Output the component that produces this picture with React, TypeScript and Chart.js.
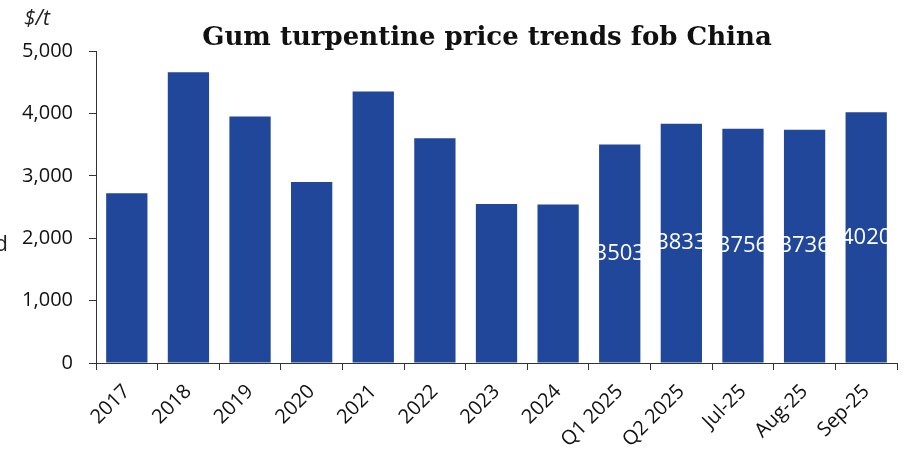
import React, { useEffect, useRef } from "react";
import { Chart, registerables } from "chart.js";

Chart.register(...registerables);

const categories = ["2017", "2018", "2019", "2020", "2021", "2022", "2023", "2024", "Q1 2025", "Q2 2025", "Jul-25", "Aug-25", "Sep-25"];
const prices = [2720, 4660, 3950, 2900, 4350, 3600, 2550, 2540, 3503, 3833, 3756, 3736, 4020];
const labelled = [false, false, false, false, false, false, false, false, true, true, true, true, true];
const yTicks = [0, 1000, 2000, 3000, 4000, 5000];
const titleText = "Gum turpentine price trends fob China";
const unitText = "$/t";

const BAR = "#21479a";
const AXIS = "#333333";
const FONT = "'Open Sans', 'Noto Sans', sans-serif";

const overlay = {
  id: "overlay",
  afterDatasetsDraw(chart: any) {
    const ctx = chart.ctx;
    const meta = chart.getDatasetMeta(0);
    ctx.save();
    ctx.fillStyle = "#ffffff";
    ctx.font = `22px ${FONT}`;
    ctx.textAlign = "center";
    ctx.textBaseline = "middle";
    meta.data.forEach((el: any, i: number) => {
      if (!labelled[i]) return;
      const yMid = (el.y + el.base) / 2;
      ctx.fillText(String(prices[i]), el.x, yMid);
    });
    ctx.restore();
  },
  afterDraw(chart: any) {
    const ctx = chart.ctx;
    ctx.save();
    ctx.fillStyle = "#111111";
    ctx.font = `bold 26px 'DejaVu Serif', 'Liberation Serif', serif`;
    ctx.textAlign = "center";
    ctx.textBaseline = "middle";
    ctx.fillText(titleText, 487, 38);
    ctx.font = `italic 21px ${FONT}`;
    ctx.textAlign = "left";
    ctx.fillStyle = "#222222";
    ctx.fillText(unitText, 24, 19);
    ctx.font = `22px ${FONT}`;
    ctx.textAlign = "right";
    ctx.fillText("d", 8, 245);
    ctx.restore();
  },
};

export default function App() {
  const ref = useRef<HTMLCanvasElement | null>(null);
  useEffect(() => {
    document.body.style.margin = "0";
    const canvas = ref.current!;
    const chart = new Chart(canvas, {
      type: "bar",
      data: {
        labels: categories,
        datasets: [
          {
            data: prices,
            backgroundColor: BAR,
            borderWidth: 0,
            categoryPercentage: 1,
            barPercentage: 0.67,
          },
        ],
      },
      options: {
        animation: false,
        responsive: false,
        maintainAspectRatio: false,
        layout: { padding: { top: 51, right: 12, left: 0, bottom: 0 } },
        plugins: { legend: { display: false }, tooltip: { enabled: false }, title: { display: false } },
        scales: {
          x: {
            offset: true,
            afterFit: (s: any) => { s.height = 88; },
            grid: { display: true, drawOnChartArea: false, drawTicks: true, tickLength: 7, color: AXIS, offset: true },
            border: { display: true, color: AXIS, width: 1 },
            ticks: { color: "#111111", font: { family: FONT, size: 20 }, minRotation: 45, maxRotation: 45, padding: 10, autoSkip: false },
          },
          y: {
            min: 0,
            max: 5000,
            afterFit: (s: any) => { s.width = 96; },
            afterBuildTicks: (s: any) => { s.ticks = yTicks.map((v) => ({ value: v })); },
            grid: { display: true, drawOnChartArea: false, drawTicks: true, tickLength: 7, color: AXIS },
            border: { display: true, color: AXIS, width: 1 },
            ticks: {
              color: "#111111",
              font: { family: FONT, size: 20 },
              padding: 16,
              callback: (v: any) => Number(v).toLocaleString("en-US"),
            },
          },
        },
      },
      plugins: [overlay],
    });
    return () => chart.destroy();
  }, []);
  return <canvas ref={ref} width={909} height={451} style={{ display: "block" }} />;
}
